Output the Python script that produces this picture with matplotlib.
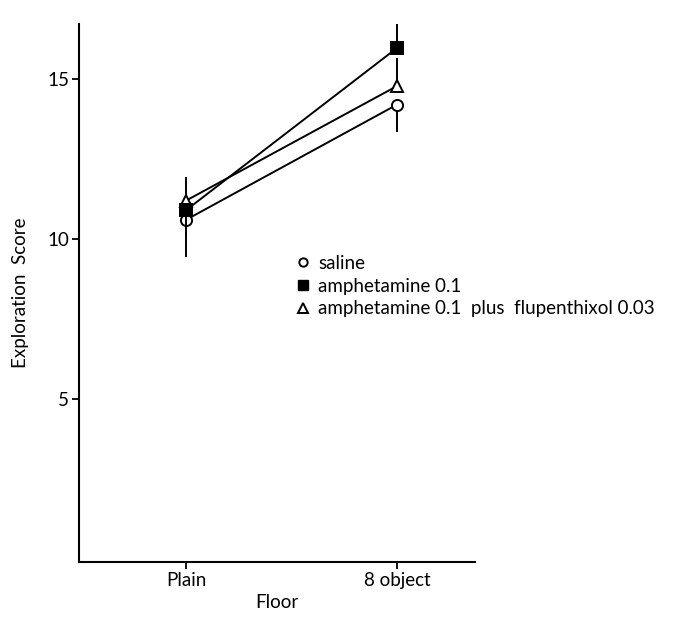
import matplotlib
matplotlib.use("Agg")
import matplotlib.pyplot as plt
from matplotlib.lines import Line2D

plt.rcParams['font.family'] = ['Lato', 'DejaVu Sans']

floors = ["Plain", "8 object"]
series_names = ["saline", "amphetamine 0.1", "amphetamine 0.1  plus  flupenthixol 0.03"]
saline = [10.6, 14.2]
amph = [10.9, 15.97]
amph_flu = [11.2, 14.78]
saline_err_low = [1.15, 0.85]
saline_err_up = [0.0, 0.0]
amph_err_low = [0.85, 0.0]
amph_err_up = [0.0, 1.1]
flu_err_low = [0.0, 0.0]
flu_err_up = [0.75, 0.88]
yticks = [5, 10, 15]

fig = plt.figure(figsize=(6.93, 6.2), dpi=100)
ax = fig.add_axes([79/693, 1-562/620, (475-79)/693, (562-24)/620])

x = list(range(len(floors)))
ax.errorbar(x, saline, yerr=[saline_err_low, saline_err_up], color='black', lw=1.4,
            marker='o', ms=8, mfc='white', mec='black', mew=1.4, capsize=0, elinewidth=1.4, zorder=3)
ax.errorbar(x, amph_flu, yerr=[flu_err_low, flu_err_up], color='black', lw=1.4,
            marker='^', ms=9, mfc='white', mec='black', mew=1.4, capsize=0, elinewidth=1.4, zorder=3)
ax.errorbar(x, amph, yerr=[amph_err_low, amph_err_up], color='black', lw=1.4,
            marker='s', ms=8, mfc='black', mec='black', mew=1.4, capsize=0, elinewidth=1.4, zorder=4)

ax.set_xlim(-0.507, 1.37)
ax.set_ylim(-0.09, 16.72)
ax.set_xticks(x)
ax.set_xticklabels(floors, fontsize=13.5)
ax.set_yticks(yticks)
ax.set_yticklabels([str(t) for t in yticks], fontsize=13.5)
ax.tick_params(direction='out', length=5, width=1.3, pad=2)
for s in ['top', 'right']:
    ax.spines[s].set_visible(False)
for s in ['left', 'bottom']:
    ax.spines[s].set_linewidth(1.5)
ax.set_xlabel("Floor", fontsize=13.5, labelpad=4)
ax.set_ylabel("Exploration  Score", fontsize=13.5, labelpad=13)

handles = [
    Line2D([], [], ls='none', marker='o', ms=6, mfc='white', mec='black', mew=1.4),
    Line2D([], [], ls='none', marker='s', ms=7, mfc='black', mec='black'),
    Line2D([], [], ls='none', marker='^', ms=7, mfc='white', mec='black', mew=1.4),
]
fig.legend(handles, series_names, loc='upper left', bbox_to_anchor=(295/693, 1-255/620),
           frameon=False, fontsize=13.5, handlelength=0.8, handletextpad=0.45,
           labelspacing=0.3, borderpad=0, borderaxespad=0)

fig.savefig("out.png", dpi=100)
